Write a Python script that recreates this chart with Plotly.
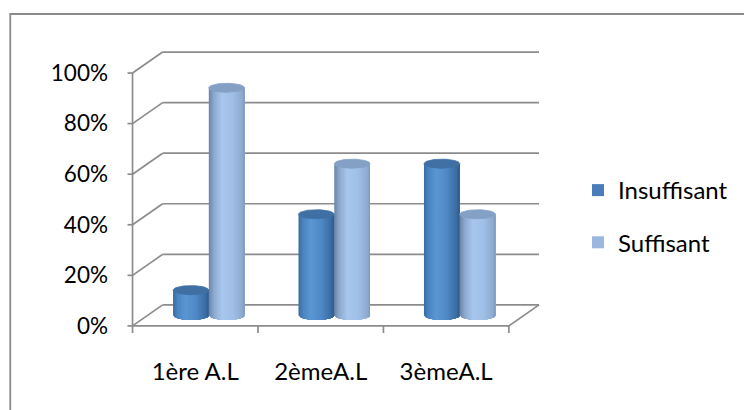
import numpy as np
import plotly.graph_objects as go

# ---- data ----
categories = ["1ère A.L", "2èmeA.L", "3èmeA.L"]
series_names = ["Insuffisant", "Suffisant"]
insuffisant = [10, 40, 60]
suffisant = [90, 60, 40]
y_ticks = [0, 20, 40, 60, 80, 100]
y_tick_labels = [f"{v}%" for v in y_ticks]

series_values = [insuffisant, suffisant]

# ---- pseudo-3D geometry (in axis units) ----
DX, DY = 0.24, 8.3          # depth offset of the back wall
DXM, DYM = 0.12, 4.15       # depth offset of the cylinders (mid depth)
BAR_W = 0.285               # cylinder diameter (category units)
RY = 1.8                    # vertical radius of the elliptic caps (percent units)
N_STRIPS = 26

FONT = "Lato"
GRID = "#8c8c8c"

n_cat = len(categories)
cat_pos = np.arange(n_cat)
x_left, x_right = -0.5, n_cat - 0.5

fig = go.Figure()


def add_line(xs, ys, color=GRID, width=1.7):
    fig.add_trace(go.Scatter(x=xs, y=ys, mode="lines", hoverinfo="skip",
                             line=dict(color=color, width=width), showlegend=False))


# back wall gridlines and the diagonals joining them to the front axis
gx, gy = [], []
for v in y_ticks:
    gx += [x_left + DX, x_right + DX, None, x_left, x_left + DX, None]
    gy += [v + DY, v + DY, None, v, v + DY, None]
# floor: front edge, right diagonal
gx += [x_left, x_right, x_right + DX, None]
gy += [0, 0, DY, None]
# front value axis with its tick marks
gx += [x_left, x_left, None]
gy += [0, y_ticks[-1], None]
for v in y_ticks:
    gx += [x_left - 0.04, x_left, None]
    gy += [v, v, None]
# category boundary ticks under the floor
for b in np.arange(n_cat + 1) - 0.5:
    gx += [b, b, None]
    gy += [0, -2.8, None]
add_line(gx, gy)


def lerp_color(stops, t):
    ts = [s[0] for s in stops]
    cols = [np.array([int(s[1][i:i + 2], 16) for i in (1, 3, 5)], float) for s in stops]
    t = float(np.clip(t, ts[0], ts[-1]))
    for k in range(len(ts) - 1):
        if ts[k] <= t <= ts[k + 1]:
            f = (t - ts[k]) / (ts[k + 1] - ts[k])
            c = cols[k] * (1 - f) + cols[k + 1] * f
            return "rgb({:.0f},{:.0f},{:.0f})".format(*c)
    return stops[-1][1]


shades = [
    [(-1.0, "#3a6aa0"), (-0.75, "#4a84c2"), (-0.3, "#5a97d3"), (0.3, "#4f88c4"),
     (0.8, "#3c6da3"), (1.0, "#2f5b8c")],
    [(-1.0, "#6a84a6"), (-0.7, "#8eaad0"), (-0.25, "#a8c7ee"), (0.35, "#a0bfe6"),
     (0.85, "#8eaad0"), (1.0, "#7e99bc")],
]
cap_colors = ["#3f6fa3", "#84a1c5"]
legend_colors = ["#4a7ebb", "#9ab7de"]

rx = BAR_W / 2
edges = np.linspace(-1, 1, N_STRIPS + 1)

for si, (name, vals) in enumerate(zip(series_names, series_values)):
    centers = cat_pos + DXM - 0.012 + (si - 0.5) * BAR_W
    # cylinder bodies, drawn as overlapping vertical strips for the shading
    for k in range(N_STRIPS):
        u = np.linspace(edges[k], 1, 24)
        sag = RY * np.sqrt(np.clip(1 - u ** 2, 0, None))
        xs, ys = [], []
        for xc, v in zip(centers, vals):
            px = xc + rx * u
            bottom = DYM - sag
            top = v + DYM - sag
            xs += list(px) + list(px[::-1]) + [px[0], None]
            ys += list(bottom) + list(top[::-1]) + [bottom[0], None]
        tmid = 0.5 * (edges[k] + edges[k + 1])
        col = lerp_color(shades[si], tmid)
        fig.add_trace(go.Scatter(x=xs, y=ys, mode="lines", fill="toself",
                                 fillcolor=col, line=dict(width=0, color=col),
                                 hoverinfo="skip", showlegend=False))
    # elliptic top caps
    th = np.linspace(0, 2 * np.pi, 72)
    cx, cy = [], []
    for xc, v in zip(centers, vals):
        cx += list(xc + rx * np.cos(th)) + [None]
        cy += list(v + DYM + RY * np.sin(th)) + [None]
    fig.add_trace(go.Scatter(x=cx, y=cy, mode="lines", fill="toself",
                             fillcolor=cap_colors[si],
                             line=dict(width=0.8, color=cap_colors[si]),
                             hoverinfo="skip", showlegend=False))

# legend entries
for si, name in enumerate(series_names):
    fig.add_trace(go.Scatter(x=[None], y=[None], mode="markers", name=name,
                             legendgroup=name,
                             marker=dict(symbol="square", size=15,
                                         color=legend_colors[si])))

# ---- layout ----
W, H = 744, 410
ML, MT = 125, 49
PW, PH = 420, 285
x_range = [-0.56, 2.78]
y_range = [-3.2, 109.5]

fig.update_layout(
    width=W, height=H,
    margin=dict(l=ML, r=W - ML - PW, t=MT, b=H - MT - PH, pad=0),
    paper_bgcolor="white", plot_bgcolor="rgba(0,0,0,0)",
    font=dict(family=FONT, size=24, color="#000000"),
    showlegend=True,
    legend=dict(x=(578 - ML) / PW, xanchor="left", y=(MT + PH - 216.5) / PH,
                yanchor="middle", tracegroupgap=18,
                font=dict(family=FONT, size=24, color="#000000"),
                bgcolor="rgba(0,0,0,0)", itemsizing="constant"),
    xaxis=dict(range=x_range, showgrid=False, zeroline=False, showline=False,
               tickmode="array", tickvals=list(cat_pos), ticktext=categories,
               ticks="", ticklabelstandoff=21,
               tickfont=dict(family=FONT, size=24, color="#000000")),
    yaxis=dict(range=y_range, showgrid=False, zeroline=False, showline=False,
               tickmode="array", tickvals=y_ticks, ticktext=y_tick_labels,
               ticks="", ticklabelstandoff=16,
               tickfont=dict(family=FONT, size=22.5, color="#000000")),
    shapes=[dict(type="rect", xref="paper", yref="paper", layer="below",
                 x0=(10 - ML) / PW, x1=(770 - ML) / PW,
                 y0=(MT + PH - 430) / PH, y1=(MT + PH - 14) / PH,
                 line=dict(color="#8a8a8a", width=1.8), fillcolor="rgba(0,0,0,0)")],
)

fig.write_html("out.html")
